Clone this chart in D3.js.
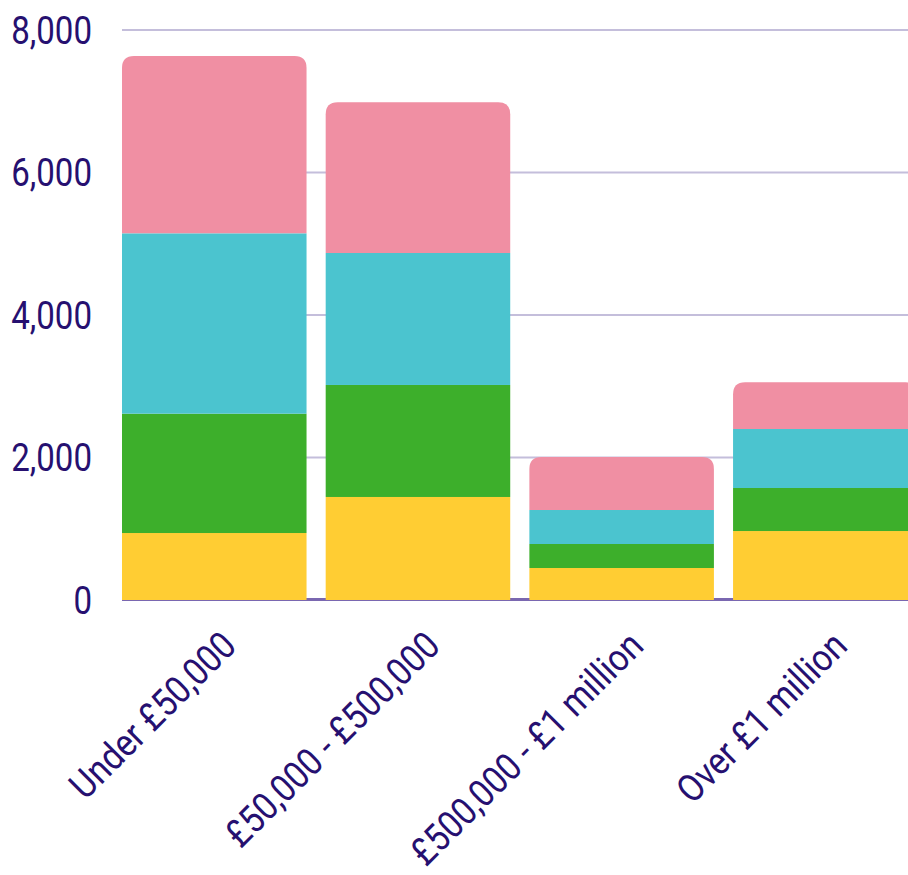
<!DOCTYPE html>
<html>
<head>
<meta charset="utf-8">
<script src="https://cdn.jsdelivr.net/npm/d3@7"></script>
<style>
  html, body { margin: 0; padding: 0; background: #fff; overflow: hidden; }
  svg { display: block; }
  text { font-family: Roboto, "Liberation Sans", sans-serif; fill: #261070; }
</style>
</head>
<body>
<svg id="chart" width="908" height="875"></svg>
<script>
const categories = ["Under £50,000", "£50,000 - £500,000", "£500,000 - £1 million", "Over £1 million"];
const seriesNames = ["s1", "s2", "s3", "s4"];
const s1 = [940, 1446, 449, 968];
const s2 = [1675, 1572, 337, 604];
const s3 = [2531, 1852, 477, 828];
const s4 = [2489, 2115, 744, 655];
const yTicks = [0, 2000, 4000, 6000, 8000];
const colors = ["#FFCD33", "#3DAF2B", "#4BC4CF", "#F08FA3"];

const svg = d3.select("#chart");
const W = 908;
const x0 = 122, y0 = 600, yTop = 30;

const x = d3.scaleBand().domain(categories).range([x0, 917.6]).paddingInner(0.094).paddingOuter(0);
const y = d3.scaleLinear().domain([0, 8000]).range([y0, yTop]);

const rows = categories.map((c, i) => ({cat: c, s1: s1[i], s2: s2[i], s3: s3[i], s4: s4[i]}));
const stacked = d3.stack().keys(seriesNames)(rows);

// gridlines
svg.append("g").selectAll("line").data(yTicks.filter(d => d > 0)).join("line")
  .attr("x1", x0).attr("x2", W)
  .attr("y1", d => y(d)).attr("y2", d => y(d))
  .attr("stroke", "#C4BEDB").attr("stroke-width", 2);

// baseline
svg.append("line").attr("x1", x0).attr("x2", W).attr("y1", y0 - 0.5).attr("y2", y0 - 0.5)
  .attr("stroke", "#7A67B0").attr("stroke-width", 3);

// bars
const r = 12;
function topRounded(xx, yy, w, h) {
  const rr = Math.min(r, h, w / 2);
  return `M${xx},${yy + h}V${yy + rr}Q${xx},${yy} ${xx + rr},${yy}H${xx + w - rr}Q${xx + w},${yy} ${xx + w},${yy + rr}V${yy + h}Z`;
}
stacked.forEach((layer, li) => {
  const g = svg.append("g").attr("fill", colors[li]);
  layer.forEach(d => {
    const xx = x(d.data.cat), w = x.bandwidth();
    const yy = y(d[1]), h = y(d[0]) - y(d[1]);
    if (li === stacked.length - 1) {
      g.append("path").attr("d", topRounded(xx, yy, w, h));
    } else {
      g.append("rect").attr("x", xx).attr("y", yy).attr("width", w).attr("height", h);
    }
  });
});

// y labels
svg.append("g").selectAll("text").data(yTicks).join("text")
  .attr("transform", d => `translate(92,${y(d)}) scale(0.87,1)`)
  .attr("text-anchor", "end").attr("dy", "0.36em")
  .attr("font-size", 38)
  .text(d => d3.format(",")(d));

// x labels
svg.append("g").selectAll("text").data(categories).join("text")
  .attr("transform", d => `translate(${x(d) + x.bandwidth() / 2 + 24},648) rotate(-45) scale(0.88,1)`)
  .attr("text-anchor", "end")
  .attr("font-size", 38)
  .text(d => d);
</script>
</body>
</html>
